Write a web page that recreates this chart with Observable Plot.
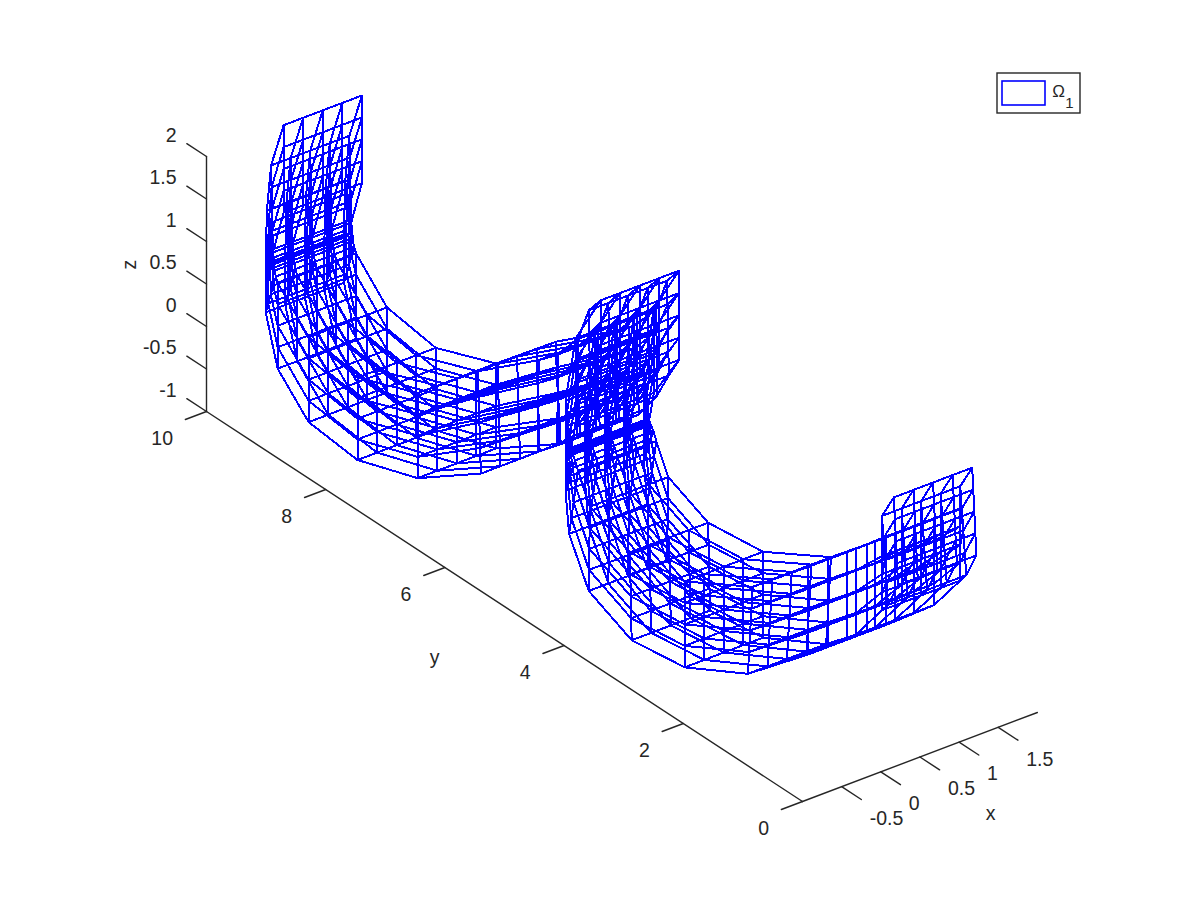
<!DOCTYPE html>
<html><head><meta charset="utf-8">
<style>html,body{margin:0;padding:0;background:#fff}svg{display:block}</style>
<script src="https://cdn.jsdelivr.net/npm/d3@7"></script>
<script src="https://cdn.jsdelivr.net/npm/@observablehq/plot@0.6"></script>
</head><body><div id="c"></div>
<script>
// mesh: y,z of each section, outer and inner edge
const xGrid=[0,0.25,0.5,0.75,1];
const radialGrid=[0,0.25,0.5,0.75,1];
const nearOuterY=[4.70,5.12,5.29,5.29,5.29,5.23,4.90,4.18,3.29,2.23,1.22,0.42,-0.02,-0.12,-0.29];
const nearOuterZ=[2.39,1.75,0.94,0.36,-0.12,-0.60,-1.12,-1.37,-1.28,-0.87,-0.18,0.42,0.91,1.02,1.33];
const nearInnerY=[4.70,5.12,5.20,5.17,5.13,5.08,4.88,4.21,3.29,2.15,1.22,0.42,-0.02,-0.02,-0.22];
const nearInnerZ=[1.34,0.76,0.40,0.36,0.31,0.21,-0.12,-0.35,-0.27,0.19,0.85,1.43,1.76,2.02,2.33];
const farOuterY=[10.02,10.23,10.30,10.32,10.32,10.12,9.60,8.78,7.77,6.71,5.76,5.37,5.07,4.87,4.70];
const farOuterZ=[2.01,1.44,0.88,0.28,-0.33,-0.90,-1.29,-1.36,-1.11,-0.57,0.12,0.39,0.75,1.08,1.34];
const farInnerY=[10.02,10.20,10.18,10.17,10.15,10.12,9.60,8.78,7.77,6.76,5.74,5.45,5.08,4.90,4.70];
const farInnerZ=[0.98,0.43,0.32,0.23,0.17,0.11,-0.29,-0.39,-0.11,0.61,1.21,1.40,1.76,2.18,2.39];

const xTicks=[-0.5,0,0.5,1,1.5], yTicks=[0,2,4,6,8,10], zTicks=[-1,-0.5,0,0.5,1,1.5,2];
const xLim=[-1,2], yLim=[0,10], zLim=[-1,2];
const blue="#0000ff", ink="#262626";

// the view of the 3D axes
const project=(x,y,z)=>({px:802+78.3*(x-xLim[0])-59.6*y, py:801-29.67*(x-xLim[0])-39*y-85*(z-zLim[0])});

const meshRows=[];
function addMesh(name,oy,oz,iy,iz){
  const node=(i,j,k)=>{const t=radialGrid[k];return project(xGrid[j],oy[i]+(iy[i]-oy[i])*t,oz[i]+(iz[i]-oz[i])*t)};
  const n=oy.length;
  const poly=(id,pts)=>pts.forEach(p=>meshRows.push({...p,id}));
  for(let j=0;j<5;j++)for(let k=0;k<5;k++) poly(`${name}-t-${j}-${k}`,d3.range(n).map(i=>node(i,j,k)));
  for(let i=0;i<n;i++){
    for(let k=0;k<5;k++) poly(`${name}-x-${i}-${k}`,d3.range(5).map(j=>node(i,j,k)));
    for(let j=0;j<5;j++) poly(`${name}-r-${i}-${j}`,d3.range(5).map(k=>node(i,j,k)));
  }
}
addMesh("far",farOuterY,farOuterZ,farInnerY,farInnerZ);
addMesh("near",nearOuterY,nearOuterZ,nearInnerY,nearInnerZ);

const axisRows=[];
const seg=(id,a,b)=>{axisRows.push({...a,id},{...b,id})};
seg("xa",project(xLim[0],0,-1),project(xLim[1],0,-1));
seg("ya",project(-1,yLim[0],-1),project(-1,yLim[1],-1));
seg("za",project(-1,10,zLim[0]),project(-1,10,zLim[1]));
xTicks.forEach((v,i)=>seg("xt"+i,project(v,0,-1),project(v,-0.33,-1)));
yTicks.forEach((v,i)=>seg("yt"+i,project(-1,v,-1),project(-1.27,v,-1)));
zTicks.forEach((v,i)=>seg("zt"+i,project(-1,10,v),project(-1,10.33,v)));

const fmt=v=>String(v);
const xLabels=xTicks.map(v=>({...project(v,0,-1),t:fmt(v)}));
const yLabels=yTicks.map(v=>({...project(-1,v,-1),t:fmt(v)}));
const zLabels=zTicks.map(v=>({...project(-1,10,v),t:fmt(v)}));
const font="Liberation Sans, Arial, sans-serif";
const txt={x:"px",y:"py",text:"t",fill:ink,fontSize:19.5,fontFamily:font};

const plot=Plot.plot({
  width:1200,height:900,margin:0,
  x:{domain:[0,1200],range:[0,1200],axis:null},
  y:{domain:[0,900],range:[0,900],axis:null},
  style:{background:"#fff"},
  marks:[
    Plot.line(axisRows,{x:"px",y:"py",z:"id",stroke:ink,strokeWidth:1.4}),
    Plot.line(meshRows,{x:"px",y:"py",z:"id",stroke:blue,strokeWidth:2,curve:"linear",shapeRendering:"crispEdges"}),
    Plot.text(xLabels,{...txt,textAnchor:"start",dx:28,dy:32}),
    Plot.text(yLabels,{...txt,textAnchor:"end",dx:-33.5,dy:27}),
    Plot.text(zLabels,{...txt,textAnchor:"end",dx:-30,dy:-21}),
    Plot.text([{px:990,py:813,t:"x"},{px:434,py:657,t:"y"}],{...txt}),
    Plot.text([{px:129,py:264,t:"z"}],{...txt,rotate:-90}),
    Plot.rect([{a:997,b:1080,c:73,d:113}],{x1:"a",x2:"b",y1:"c",y2:"d",fill:"#fff",stroke:ink,strokeWidth:1.4}),
    Plot.rect([{a:1002,b:1045,c:81,d:105}],{x1:"a",x2:"b",y1:"c",y2:"d",fill:"none",stroke:blue,strokeWidth:1.6}),
    Plot.text([{px:1058,py:91,t:"Ω"}],{...txt,fontSize:17}),
    Plot.text([{px:1069,py:103,t:"1"}],{...txt,fontSize:15})
  ]
});
document.getElementById("c").append(plot);
</script></body></html>
